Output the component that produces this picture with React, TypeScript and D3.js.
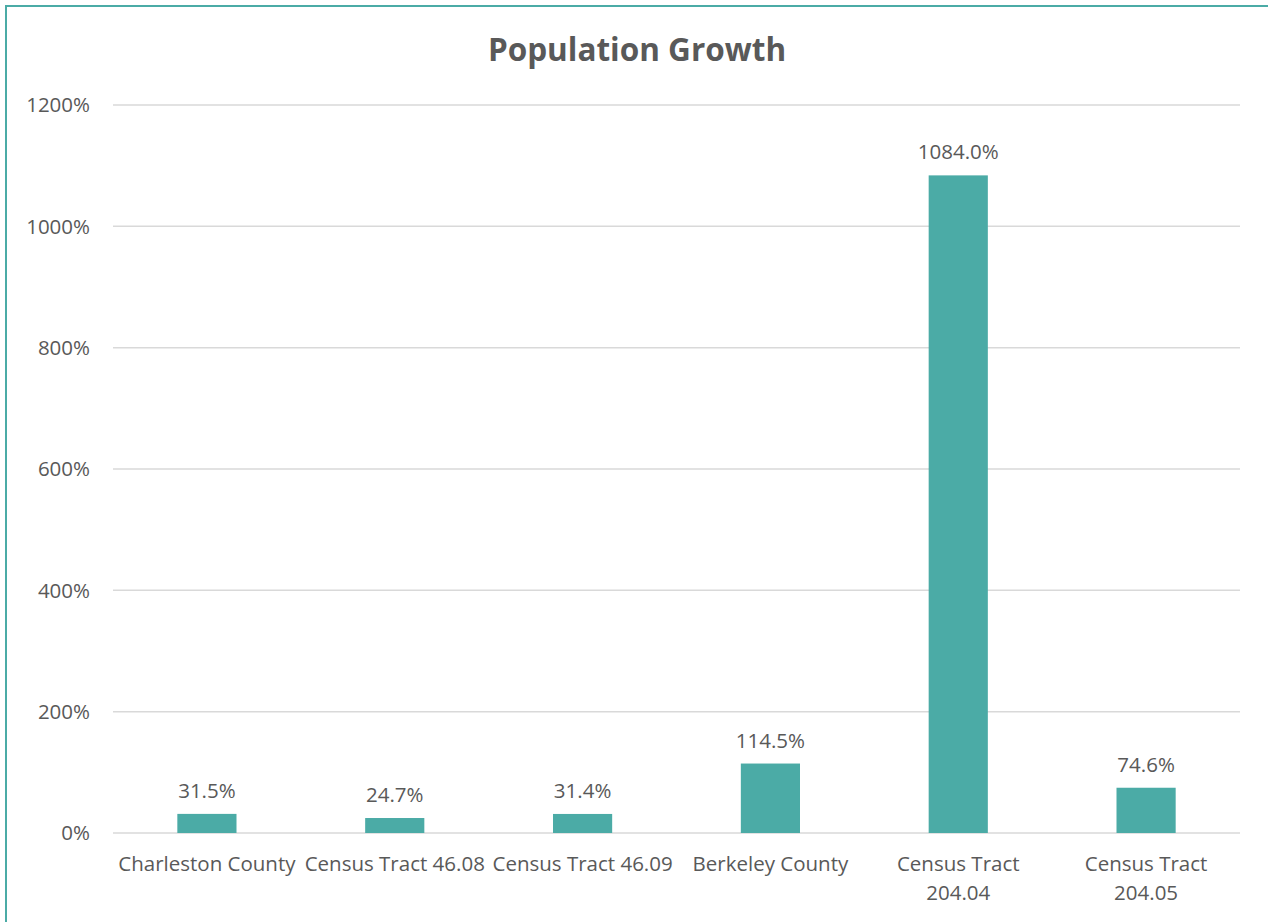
import React from 'react';
import * as d3 from 'd3';

const categories = [
  'Charleston County',
  'Census Tract 46.08',
  'Census Tract 46.09',
  'Berkeley County',
  'Census Tract\n204.04',
  'Census Tract\n204.05',
];
const growth = [31.5, 24.7, 31.4, 114.5, 1084.0, 74.6];
const yTicks = [0, 200, 400, 600, 800, 1000, 1200];
const title = 'Population Growth';

const W = 1268;
const H = 922;
const FONT = '"Open Sans", Lato, sans-serif';
const TEXT = '#595959';
const BAR = '#4BABA6';
const FS = 20.5;

export default function App() {
  const x = d3.scaleBand().domain(categories).range([113, 1240]).paddingInner(0.685).paddingOuter(0.3425);
  const y = d3.scaleLinear().domain([0, 1200]).range([833, 105]);
  return (
    <svg width={W} height={H} style={{ position: 'absolute', left: 0, top: 0, background: '#fff' }} fontFamily={FONT}>
      <rect x={6} y={6} width={W + 10} height={H + 10} fill="#fff" stroke={BAR} strokeWidth={2} />
      <text x={637} y={61} textAnchor="middle" fontSize={31.5} fontWeight="bold" fill={TEXT}>{title}</text>
      {yTicks.map((t) => (
        <g key={t}>
          <line x1={113} x2={1240} y1={y(t)} y2={y(t)} stroke="#D9D9D9" strokeWidth={1.5} />
          <text x={90} y={y(t)} dy="0.35em" textAnchor="end" fontSize={FS} fill={TEXT}>{d3.format('d')(t)}%</text>
        </g>
      ))}
      {categories.map((c, i) => {
        const bx = x(c)!;
        const bw = x.bandwidth();
        const cx = bx + bw / 2;
        const lines = c.split('\n');
        return (
          <g key={c}>
            <rect x={bx} y={y(growth[i])} width={bw} height={y(0) - y(growth[i])} fill={BAR} />
            <text x={cx} y={y(growth[i]) - 16} textAnchor="middle" fontSize={FS} fill={TEXT}>{growth[i].toFixed(1)}%</text>
            {lines.map((l, j) => (
              <text key={j} x={cx} y={871 + j * 29} textAnchor="middle" fontSize={FS} fill={TEXT}>{l}</text>
            ))}
          </g>
        );
      })}
    </svg>
  );
}
